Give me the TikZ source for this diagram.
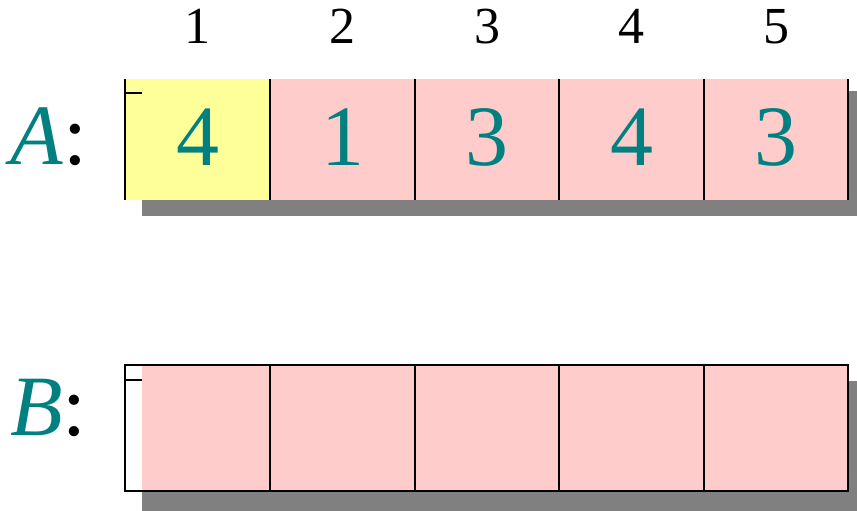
\documentclass[tikz,border=0pt]{standalone}
\usepackage{fontspec}
\setmainfont{Liberation Serif}
\definecolor{teal}{RGB}{0,128,128}
\definecolor{cellpink}{RGB}{255,204,204}
\definecolor{cellyellow}{RGB}{255,255,153}
\definecolor{shadowgray}{RGB}{128,128,128}
\begin{document}
\begin{tikzpicture}[x=1pt,y=-1pt,
  shadow/.style={fill=shadowgray},
  edge/.style={line width=2pt,black},
  idx/.style={anchor=base,inner sep=0pt,font=\fontsize{52}{52}\selectfont},
  val/.style={anchor=base,inner sep=0pt,text=teal,font=\fontsize{86}{86}\selectfont},
  lbl/.style={anchor=base west,inner sep=0pt,font=\fontsize{86}{86}\selectfont}]
\useasboundingbox (0,0) rectangle (857,511);
% shadows
\fill[shadow] (142,91) rectangle (860,216);
\fill[shadow] (142,381) rectangle (860,515);
% A row
\fill[cellyellow] (125,79) rectangle (270,200);
\fill[cellpink] (270,79) rectangle (848,200);
\foreach \x in {125,270,415,559,704,848} \draw[edge] (\x,79) -- (\x,200);
\draw[edge] (125,93) -- (142,93);
% B row
\fill[cellpink] (142,365) rectangle (848,491);
\draw[edge] (125,365) rectangle (848,491);
\foreach \x in {270,415,559,704} \draw[edge] (\x,365) -- (\x,491);
\draw[edge] (125,380) -- (142,380);
% index labels
\foreach \i/\x in {1/197.5,2/342.5,3/487,4/631.5,5/776}
  \node[idx] (i\i) at (\x,44) {\i};
% values
\foreach \i/\x/\v in {1/197.5/4,2/342.5/1,3/487/3,4/631.5/4,5/776/3}
  \node[val] (a\i) at (\x,165) {\v};
% row labels
\node[lbl] (la) at (10,164) {\textcolor{teal}{\textit{A}}:};
\node[lbl] (lb) at (10,435) {\textcolor{teal}{\textit{B}}:};
\end{tikzpicture}
\end{document}
